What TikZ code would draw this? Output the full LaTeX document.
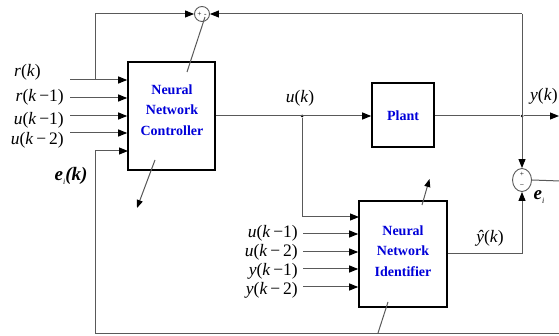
\documentclass[tikz,border=0pt]{standalone}
\usepackage{fontspec}
\setmainfont{Liberation Serif}
\newfontfamily\tnr{Liberation Serif}
\usetikzlibrary{arrows.meta,shapes.geometric}
\newcommand\mi[1]{\textit{#1}}
\begin{document}
\begin{tikzpicture}[x=1pt,y=-1pt,
  blk/.style={draw=black,line width=1.6pt,fill=white,inner sep=0pt},
  blktxt/.style={text=blue!85!black,font=\tnr\fontsize{14}{20.5}\selectfont\bfseries,align=center,inner sep=0pt},
  wire/.style={draw=black!65,line width=1pt},
  arr/.style={wire,-{Triangle[length=9pt,width=7pt,color=black]}},
  sarr/.style={wire,-{Triangle[length=8pt,width=6pt,color=black]}},
  lab/.style={font=\tnr\fontsize{17.5}{17.5}\selectfont,inner sep=0pt},
  elab/.style={font=\tnr\fontsize{19}{19}\selectfont\bfseries\itshape,inner sep=0pt},
  sgn/.style={font=\tnr\fontsize{7.5}{7.5}\selectfont,inner sep=0pt},
  sumc/.style={draw=black!65,line width=0.9pt,circle,minimum size=15pt,inner sep=0pt},
  sume/.style={draw=black!65,line width=0.9pt,ellipse,minimum width=19pt,minimum height=23pt,inner sep=0pt},
  jdot/.style={circle,fill=black,minimum size=3pt,inner sep=0pt}]
\useasboundingbox (0,0) rectangle (559,336);

% blocks
\node[blk,minimum width=87pt,minimum height=108pt] (nnc) at (171.5,116) {};
\node[blktxt] (nnct) at (172,110) {Neural\\Network\\Controller};
\node[blk,minimum width=62pt,minimum height=64pt] (pl) at (403,115) {};
\node[blktxt] (plt) at (403,116) {Plant};
\node[blk,minimum width=88pt,minimum height=106pt] (nni) at (403,254) {};
\node[blktxt] (nnit) at (403,251) {Neural\\Network\\Identifier};

% summing junctions
\node[sumc] (s1) at (202,14) {};
\node[sgn] (s1p) at (202,14) {+\,\,-};
\node[sume] (s2) at (522,180) {};
\node[sgn] (s2p) at (522,174) {+};
\node[sgn] (s2m) at (522,186) {−};

% junction points
\node[jdot] (ud) at (302,116) {};
\node[jdot] (yd) at (522,116) {};
\coordinate (br) at (95,80);
\coordinate (tr) at (522,14);

% controller inputs
\coordinate (c1) at (70,80);
\coordinate (c2) at (70,98);
\coordinate (c3) at (70,116);
\coordinate (c4) at (70,133);
\draw[arr] (c1) -- (c1 -| nnc.west);
\draw[arr] (c2) -- (c2 -| nnc.west);
\draw[arr] (c3) -- (c3 -| nnc.west);
\draw[arr] (c4) -- (c4 -| nnc.west);
\node[lab,anchor=west] (lr0) at (14,72) {\mi{r}(\mi{k})};
\node[lab,anchor=east] (lr1) at (64,97) {\mi{r}(\mi{k}\,−1)};
\node[lab,anchor=east] (lu1) at (64,120) {\mi{u}(\mi{k}\,−1)};
\node[lab,anchor=east] (lu2) at (64,140) {\mi{u}(\mi{k}\,−\,2)};

% r(k) to top summing junction
\draw[arr] (br) |- (s1.west);
\draw[arr] (tr) -- (s1.east);
\draw[arr] (tr) -- (s2.north);

% controller to plant
\draw[arr] (nnc.east) -- (nnc.east -| pl.west);
\node[lab] (luk) at (300,98) {\mi{u}(\mi{k})};
\coordinate (ui) at (359,217);
\draw[arr] (ud) |- (ui);

% plant output
\coordinate (yend) at (559,116);
\draw[wire] (pl.east |- yd) -- (yd);
\draw[arr] (yd) -- (yend);
\node[lab,anchor=west] (lyk) at (530,96) {\mi{y}(\mi{k})};

% identifier inputs
\coordinate (d1) at (303,234);
\coordinate (d2) at (303,252);
\coordinate (d3) at (303,269);
\coordinate (d4) at (303,287);
\draw[arr] (d1) -- (d1 -| nni.west);
\draw[arr] (d2) -- (d2 -| nni.west);
\draw[arr] (d3) -- (d3 -| nni.west);
\draw[arr] (d4) -- (d4 -| nni.west);
\node[lab,anchor=east] (li1) at (298,233) {\mi{u}(\mi{k}\,−1)};
\node[lab,anchor=east] (li2) at (298,252) {\mi{u}(\mi{k}\,−\,2)};
\node[lab,anchor=east] (li3) at (298,271) {\mi{y}(\mi{k}\,−1)};
\node[lab,anchor=east] (li4) at (298,290) {\mi{y}(\mi{k}\,−\,2)};

% identifier output
\draw[arr] (nni.east) -| (s2.south);
\node[lab] (lyh) at (490,238) {\mi{ŷ}(\mi{k})};

% identification error
\coordinate (ee) at (560,181);
\draw[wire] (s2.east) -- (ee);
\node[elab] (lei) at (539,197) {e\raisebox{-0.5ex}{\fontsize{8}{8}\selectfont\mdseries i}};

% feedback of e_i to controller
\coordinate (be) at (560,333);
\coordinate (bl) at (95,333);
\coordinate (ein) at (128,151);
\draw[arr] (be) -- (bl) |- (ein);
\node[elab] (leik) at (71,176) {e\raisebox{-0.5ex}{\fontsize{8}{8}\selectfont\mdseries i}(k)};

% adaptation arrows
\coordinate (a1) at (205,17);
\coordinate (a2) at (187,72);
\coordinate (a3) at (155,160);
\coordinate (a4) at (137,208);
\draw[wire] (a1) -- (a2);
\draw[sarr] (a3) -- (a4);
\coordinate (b1) at (378,333);
\coordinate (b2) at (388,302);
\coordinate (b3) at (422,205);
\coordinate (b4) at (429.5,179);
\draw[wire] (b1) -- (b2);
\draw[sarr] (b3) -- (b4);
\end{tikzpicture}
\end{document}
